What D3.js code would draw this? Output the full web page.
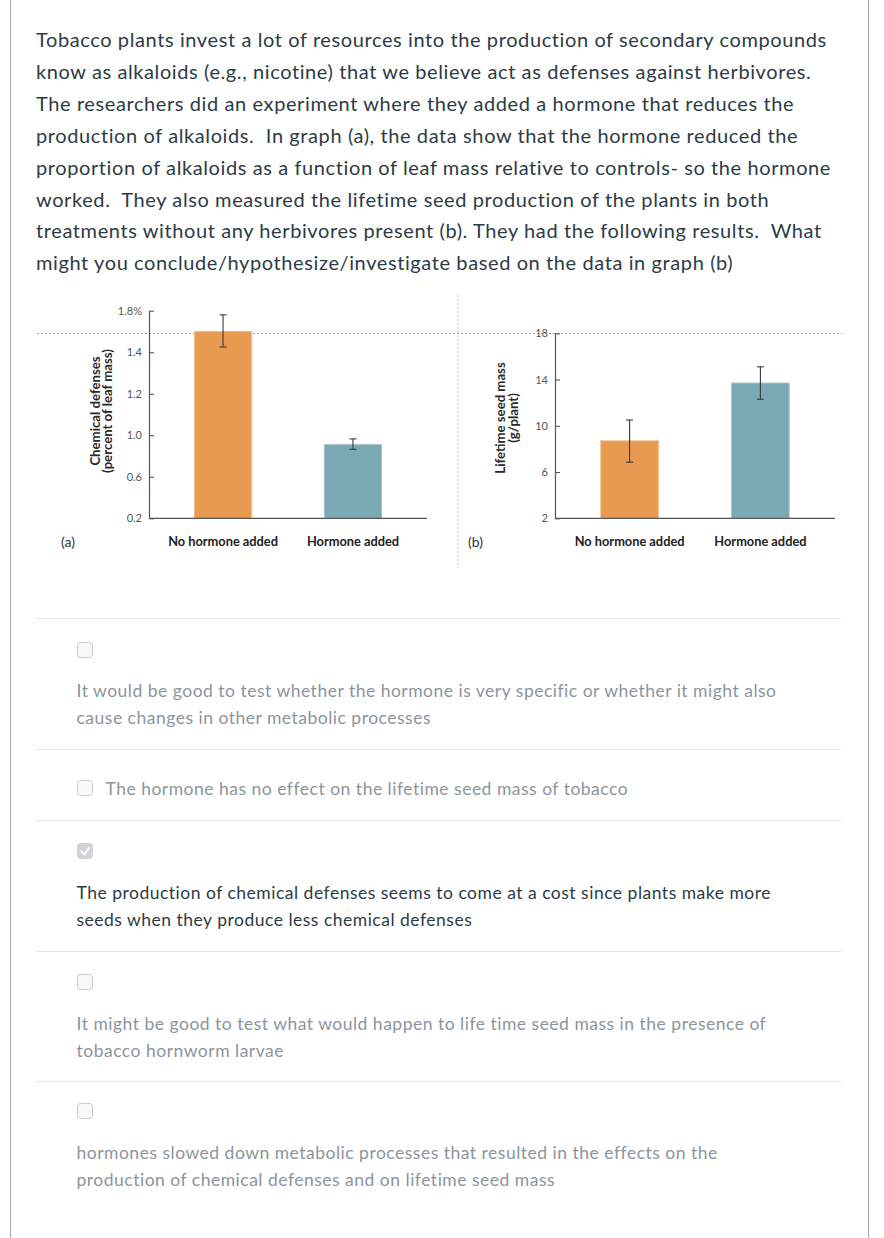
<!DOCTYPE html>
<html>
<head>
<meta charset="utf-8">
<script src="https://cdn.jsdelivr.net/npm/d3@7"></script>
<style>
  html, body { margin: 0; padding: 0; background: #fff; }
  svg text { white-space: pre; }
</style>
</head>
<body>
<script>
// ---------- DATA ----------
const categories = ["No hormone added", "Hormone added"];

const defenseTicks = [0.2, 0.6, 1.0, 1.2, 1.4, 1.8];
const defenseValues = [1.6, 0.91];
const defenseErrLow = [1.45, 0.865];
const defenseErrHigh = [1.76, 0.965];

const seedTicks = [2, 6, 10, 14, 18];
const seedValues = [8.7, 13.7];
const seedErrLow = [6.85, 12.3];
const seedErrHigh = [10.5, 15.1];

const questionLines = [
  "Tobacco plants invest a lot of resources into the production of secondary compounds",
  "know as alkaloids (e.g., nicotine) that we believe act as defenses against herbivores.",
  "The researchers did an experiment where they added a hormone that reduces the",
  "production of alkaloids.  In graph (a), the data show that the hormone reduced the",
  "proportion of alkaloids as a function of leaf mass relative to controls- so the hormone",
  "worked.  They also measured the lifetime seed production of the plants in both",
  "treatments without any herbivores present (b). They had the following results.  What",
  "might you conclude/hypothesize/investigate based on the data in graph (b)"
];

const optionTexts = [
  ["It would be good to test whether the hormone is very specific or whether it might also",
   "cause changes in other metabolic processes"],
  ["The hormone has no effect on the lifetime seed mass of tobacco"],
  ["The production of chemical defenses seems to come at a cost since plants make more",
   "seeds when they produce less chemical defenses"],
  ["It might be good to test what would happen to life time seed mass in the presence of",
   "tobacco hornworm larvae"],
  ["hormones slowed down metabolic processes that resulted in the effects on the",
   "production of chemical defenses and on lifetime seed mass"]
];
const optionChecked = [false, false, true, false, false];

// ---------- DRAW ----------
const W = 884, H = 1238;
const svg = d3.select("body").append("svg").attr("width", W).attr("height", H)
  .style("display", "block");

const textDark = "#2d3b45";
const textGray = "#8b959c";
const orange = "#e89a51";
const blue = "#7ba8b5";

// page borders
svg.append("line").attr("x1", 10.5).attr("x2", 10.5).attr("y1", 0).attr("y2", H)
  .attr("stroke", "#a9a9a9").attr("stroke-width", 1);
svg.append("line").attr("x1", 868.5).attr("x2", 868.5).attr("y1", 0).attr("y2", H)
  .attr("stroke", "#a9a9a9").attr("stroke-width", 1);

// question paragraph
const q = svg.append("g").attr("font-family", "Lato, sans-serif").attr("font-size", 20)
  .attr("letter-spacing", 0.6).attr("fill", textDark);
questionLines.forEach((t, i) => {
  q.append("text").attr("x", 36).attr("y", 47 + i * 31.9).text(t);
});

// dotted guides
svg.append("line").attr("x1", 37).attr("x2", 842).attr("y1", 333.5).attr("y2", 333.5)
  .attr("stroke", "#9a9a9a").attr("stroke-width", 1).attr("stroke-dasharray", "2,2");
svg.append("line").attr("x1", 458).attr("x2", 458).attr("y1", 295).attr("y2", 568)
  .attr("stroke", "#c4c4c4").attr("stroke-width", 1).attr("stroke-dasharray", "2,2");

function drawChart(opts) {
  const g = svg.append("g");
  const x = d3.scaleBand().domain(categories).range([opts.x0, opts.x1])
    .paddingInner(0.56).paddingOuter(0.35);
  const y = opts.y;
  const yMin = y.domain()[0];

  // bars
  g.selectAll("rect.bar").data(opts.values).join("rect")
    .attr("class", "bar")
    .attr("x", (d, i) => x(categories[i]))
    .attr("width", x.bandwidth())
    .attr("y", d => y(d))
    .attr("height", d => y(yMin) - y(d))
    .attr("fill", (d, i) => i === 0 ? orange : blue)
    .attr("stroke", (d, i) => i === 0 ? "#f2bb86" : "#a6c4cd")
    .attr("stroke-width", 1);

  // error bars
  const eb = g.append("g").attr("stroke", "#3a3a3a").attr("stroke-width", 1.1);
  opts.values.forEach((v, i) => {
    const cx = x(categories[i]) + x.bandwidth() / 2;
    const yl = y(opts.errLow[i]), yh = y(opts.errHigh[i]);
    eb.append("line").attr("x1", cx).attr("x2", cx).attr("y1", yl).attr("y2", yh);
    eb.append("line").attr("x1", cx - 3.5).attr("x2", cx + 3.5).attr("y1", yl).attr("y2", yl);
    eb.append("line").attr("x1", cx - 3.5).attr("x2", cx + 3.5).attr("y1", yh).attr("y2", yh);
  });

  // y axis
  const ya = g.append("g").attr("transform", `translate(${opts.x0},0)`)
    .call(d3.axisLeft(y).tickValues(opts.ticks).tickSize(-5).tickSizeOuter(0)
      .tickPadding(7).tickFormat(opts.fmt));
  ya.select(".domain").attr("stroke", "#555").attr("stroke-width", 1.2);
  ya.selectAll(".tick line").attr("stroke", "#555").attr("stroke-width", 1.1);
  ya.selectAll(".tick text").attr("fill", "#555").attr("font-size", 11)
    .attr("font-family", "Lato, sans-serif");

  // x axis
  const xa = g.append("g").attr("transform", `translate(0,${y(yMin)})`)
    .call(d3.axisBottom(x).tickSize(0).tickSizeOuter(0).tickPadding(18.5));
  xa.select(".domain").attr("stroke", "#555").attr("stroke-width", 1.2)
    .attr("d", `M${opts.x0},0H${opts.xEnd}`);
  xa.selectAll(".tick text").attr("fill", "#222").attr("font-size", 12.8)
    .attr("font-weight", "bold").attr("font-family", "Lato, sans-serif");

  // panel label
  g.append("text").attr("x", opts.panelX).attr("y", 546.5).attr("font-size", 14)
    .attr("font-family", "Lato, sans-serif").attr("fill", "#333").text(opts.panel);

  // y title
  const t = g.append("text").attr("transform", `translate(${opts.titleX},${opts.titleY}) rotate(-90)`)
    .attr("text-anchor", "middle").attr("font-size", 13.2).attr("font-weight", "bold")
    .attr("font-family", "Lato, sans-serif").attr("fill", "#2a2a2a");
  opts.title.forEach((line, i) => {
    t.append("tspan").attr("x", 0).attr("y", i * opts.titleGap).text(line);
  });
}

const yTopA = 310.7, yBotA = 518.3;
const yA = d3.scaleLinear().domain(defenseTicks)
  .range(defenseTicks.map((d, i) => yBotA - i * (yBotA - yTopA) / (defenseTicks.length - 1)));

drawChart({
  x0: 149, x1: 427, xEnd: 427, y: yA, ticks: defenseTicks,
  fmt: d => d === 1.8 ? "1.8%" : d3.format(".1f")(d),
  values: defenseValues, errLow: defenseErrLow, errHigh: defenseErrHigh,
  panel: "(a)", panelX: 61,
  title: ["Chemical defenses", "(percent of leaf mass)"], titleX: 99.5, titleY: 411, titleGap: 12.5
});

const yB = d3.scaleLinear().domain([seedTicks[0], seedTicks[seedTicks.length - 1]])
  .range([518.3, 333.3]);

drawChart({
  x0: 555, x1: 835, xEnd: 835, y: yB, ticks: seedTicks,
  fmt: d3.format("d"),
  values: seedValues, errLow: seedErrLow, errHigh: seedErrHigh,
  panel: "(b)", panelX: 468,
  title: ["Lifetime seed mass", "(g/plant)"], titleX: 504.5, titleY: 418, titleGap: 13
});

// ---------- answer options ----------
const sepY = [618, 749, 820, 951, 1081];
sepY.forEach(yy => {
  svg.append("line").attr("x1", 36).attr("x2", 841).attr("y1", yy + 0.5).attr("y2", yy + 0.5)
    .attr("stroke", "#e3e6e8").attr("stroke-width", 1);
});

const optLayout = [
  { box: 650, lines: [697, 724], inline: false },
  { box: 788, lines: [795], inline: true },
  { box: 851, lines: [899, 926], inline: false },
  { box: 982, lines: [1030, 1057], inline: false },
  { box: 1111, lines: [1159, 1186], inline: false }
];

optionTexts.forEach((lines, i) => {
  const L = optLayout[i];
  const checked = optionChecked[i];
  const g = svg.append("g");
  g.append("rect").attr("x", 77.5).attr("y", L.box - 7.5).attr("width", 15).attr("height", 15)
    .attr("rx", 3).attr("fill", checked ? "#cfd3d6" : "#f8f8f8")
    .attr("stroke", checked ? "#cfd3d6" : "#c9cdd0").attr("stroke-width", 1);
  if (checked) {
    g.append("path")
      .attr("d", `M81.5,${L.box + 0.5} L84.5,${L.box + 3.5} L89,${L.box - 3}`)
      .attr("fill", "none").attr("stroke", "#fff").attr("stroke-width", 2)
      .attr("stroke-linecap", "round").attr("stroke-linejoin", "round");
  }
  lines.forEach((t, j) => {
    g.append("text").attr("x", L.inline ? 105.5 : 76.5).attr("y", L.lines[j])
      .attr("font-family", "Lato, sans-serif").attr("font-size", 17.5)
      .attr("letter-spacing", 0.5)
      .attr("fill", checked ? textDark : textGray).text(t);
  });
});
</script>
</body>
</html>
